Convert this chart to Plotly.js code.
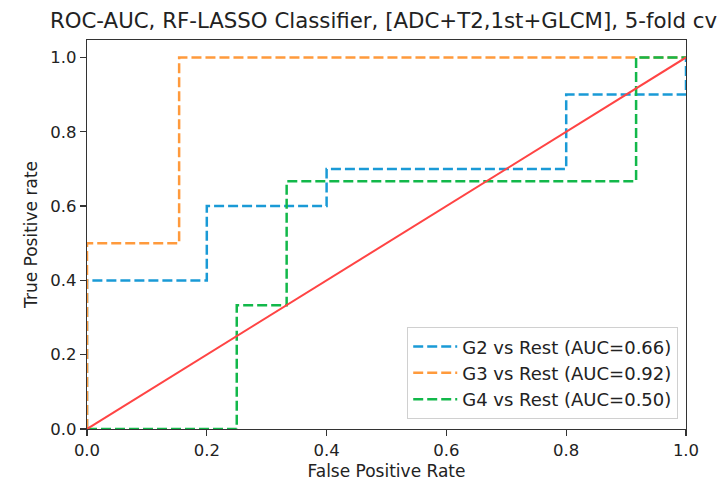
<!DOCTYPE html>
<html>
<head>
<meta charset="utf-8">
<script src="https://cdn.plot.ly/plotly-3.0.1.min.js"></script>
<style>html,body{margin:0;padding:0;background:#fff;}#chart{width:724px;height:484px;}</style>
</head>
<body>
<div id="chart"></div>
<script>
// ROC curve points
const g2Fpr = [0, 0, 0.2, 0.2, 0.4, 0.4, 0.8, 0.8, 1.0, 1.0];
const g2Tpr = [0, 0.4, 0.4, 0.6, 0.6, 0.7, 0.7, 0.9, 0.9, 1.0];
const g3Fpr = [0, 0, 0.1538, 0.1538, 1.0];
const g3Tpr = [0, 0.5, 0.5, 1.0, 1.0];
const g4Fpr = [0, 0.25, 0.25, 0.3333, 0.3333, 0.9167, 0.9167, 1.0];
const g4Tpr = [0, 0, 0.3333, 0.3333, 0.6667, 0.6667, 1.0, 1.0];
const diagX = [0, 1];
const diagY = [0, 1];
const seriesNames = ["G2 vs Rest (AUC=0.66)", "G3 vs Rest (AUC=0.92)", "G4 vs Rest (AUC=0.50)"];
const tickVals = [0, 0.2, 0.4, 0.6, 0.8, 1.0];
const tickText = ["0.0", "0.2", "0.4", "0.6", "0.8", "1.0"];

const FONT = "DejaVu Sans, sans-serif";
const dashed = (c) => ({color: c, width: 2.5, dash: "10px,4px"});

const traces = [
  {x: g2Fpr, y: g2Tpr, name: seriesNames[0], mode: "lines", line: dashed("#1a9ad6")},
  {x: g3Fpr, y: g3Tpr, name: seriesNames[1], mode: "lines", line: dashed("#ff9a3c")},
  {x: g4Fpr, y: g4Tpr, name: seriesNames[2], mode: "lines", line: dashed("#12b84a")},
  {x: diagX, y: diagY, mode: "lines", showlegend: false, line: {color: "#ff4444", width: 2}}
];

const axisCommon = {
  showgrid: false, zeroline: false, showline: true, mirror: true,
  linecolor: "#333", linewidth: 1.2,
  ticks: "outside", ticklen: 6, tickwidth: 1.2, tickcolor: "#333",
  tickfont: {family: FONT, size: 16.5, color: "#222"},
  tickvals: tickVals, ticktext: tickText
};

const layout = {
  width: 724, height: 484,
  paper_bgcolor: "#fff", plot_bgcolor: "#fff",
  margin: {l: 87, r: 38, t: 40, b: 55},
  font: {family: FONT, color: "#222"},
  title: {text: "ROC-AUC, RF-LASSO Classifier, [ADC+T2,1st+GLCM], 5-fold cv",
          font: {family: FONT, size: 21.3, color: "#222"},
          x: 0.5297, xanchor: "center", y: 0.958, yanchor: "middle"},
  xaxis: Object.assign({}, axisCommon, {range: [0, 1],
    title: {text: "False Positive Rate", font: {family: FONT, size: 17, color: "#222"}, standoff: 6}}),
  yaxis: Object.assign({}, axisCommon, {range: [0, 1.047],
    title: {text: "True Positive rate", font: {family: FONT, size: 17, color: "#222"}, standoff: 8}}),
  legend: {x: 0.987, xanchor: "right", y: 0.025, yanchor: "bottom",
           bgcolor: "rgba(255,255,255,0.9)", bordercolor: "#d0d0d0", borderwidth: 1,
           itemwidth: 44,
           font: {family: FONT, size: 18, color: "#222"}, tracegroupgap: 0}
};

Plotly.newPlot("chart", traces, layout, {displayModeBar: false, staticPlot: true});
</script>
</body>
</html>
